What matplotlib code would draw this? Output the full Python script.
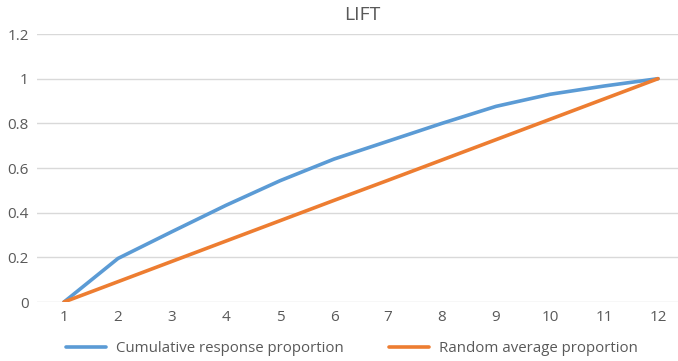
import matplotlib.pyplot as plt

# =====================================================
# DATA
# =====================================================

x_vals = [1, 2, 3, 4, 5, 6, 7, 8, 9, 10, 11, 12]
cumulative = [0, 0.195, 0.315, 0.433, 0.543, 0.64, 0.72, 0.80, 0.876, 0.93, 0.967, 1.0]
random_avg = [0, 0.091, 0.182, 0.273, 0.364, 0.455, 0.545, 0.636, 0.727, 0.818, 0.909, 1.0]
y_ticks = [0, 0.2, 0.4, 0.6, 0.8, 1, 1.2]
y_labels = ["0", "0.2", "0.4", "0.6", "0.8", "1", "1.2"]

BLUE = "#5B9BD5"
ORANGE = "#ED7D31"
TEXT = "#595959"
GRID = "#D9D9D9"

plt.rcParams["font.family"] = ["Open Sans", "DejaVu Sans"]

fig = plt.figure(figsize=(6.78, 3.61), dpi=100)
ax = fig.add_axes([37 / 678, 59 / 361, 641 / 678, 268 / 361])

ax.plot(x_vals, cumulative, color=BLUE, lw=2.6, solid_capstyle="round",
        solid_joinstyle="round", label="Cumulative response proportion", zorder=3)
ax.plot(x_vals, random_avg, color=ORANGE, lw=2.6, solid_capstyle="round",
        solid_joinstyle="round", label="Random average proportion", zorder=3)

ax.set_xlim(0.5, 12.37)
ax.set_ylim(0, 1.2)
ax.set_xticks(x_vals)
ax.set_xticklabels([str(v) for v in x_vals])
ax.set_yticks(y_ticks)
ax.set_yticklabels(y_labels)
ax.tick_params(axis="both", length=0, colors=TEXT, labelsize=11)
ax.tick_params(axis="x", pad=6)
ax.tick_params(axis="y", pad=6)
ax.grid(axis="y", color=GRID, lw=1)
ax.set_axisbelow(True)
for s in ax.spines.values():
    s.set_visible(False)

fig.text(362 / 678, 1 - 15 / 361, "LIFT", ha="center", va="center",
         fontsize=14, color=TEXT)

fig.legend(loc="center", bbox_to_anchor=(352 / 678, 1 - 349 / 361), ncol=2,
           frameon=False, fontsize=10.8, labelcolor=TEXT, handlelength=2.7,
           columnspacing=3.0, handletextpad=0.67)

fig.savefig("out.png", dpi=100)
